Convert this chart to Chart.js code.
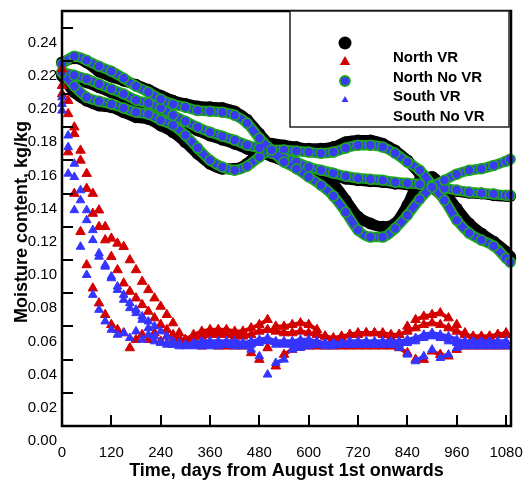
<!DOCTYPE html>
<html>
<head>
<meta charset="utf-8">
<script src="https://cdn.jsdelivr.net/npm/chart.js@4/dist/chart.umd.min.js"></script>
<style>
  html, body { margin: 0; padding: 0; background: #fff; }
  #wrap { width: 524px; height: 484px; }
</style>
</head>
<body>
<div id="wrap"><canvas id="chart"></canvas></div>
<script>
"use strict";

const FONT = "'Liberation Sans', Arial, sans-serif";
const LEGEND_LABELS = ["North VR", "North No VR", "South VR", "South No VR"];
const X_TITLE = "Time, days from August 1st onwards";
const Y_TITLE = "Moisture content, kg/kg";
const X_TICKS = [0, 120, 240, 360, 480, 600, 720, 840, 960, 1080];
const Y_TICKS = [0, 0.02, 0.04, 0.06, 0.08, 0.10, 0.12, 0.14, 0.16, 0.18, 0.20, 0.22, 0.24];

// 円マーカー（VR）の日付
const CIRCLE_DAYS = [0, 30, 60, 90, 120, 150, 180, 210, 240, 270, 300, 330, 360, 390, 420, 450, 480, 510,
  540, 570, 600, 630, 660, 690, 720, 750, 780, 810, 840, 870, 900, 930, 960, 990, 1020, 1050, 1080, 1090];

// North VR（黒丸）3本
const NORTH_VR_A = [0.219, 0.2215, 0.219, 0.2135, 0.2105, 0.208, 0.2055, 0.2025, 0.199, 0.196, 0.194, 0.1925,
  0.192, 0.1915, 0.1895, 0.1845, 0.176, 0.168, 0.162, 0.158, 0.155, 0.152, 0.146, 0.136, 0.126, 0.122, 0.120,
  0.122, 0.133, 0.148, 0.150, 0.141, 0.131, 0.122, 0.116, 0.111, 0.105, 0.102];
const NORTH_VR_B = [0.212, 0.2095, 0.207, 0.204, 0.201, 0.198, 0.1945, 0.1925, 0.1895, 0.1855, 0.1815, 0.178,
  0.175, 0.1725, 0.170, 0.167, 0.165, 0.1625, 0.1595, 0.157, 0.1545, 0.1525, 0.151, 0.149, 0.148, 0.1475,
  0.147, 0.146, 0.1455, 0.145, 0.144, 0.1425, 0.1415, 0.1405, 0.140, 0.139, 0.1385, 0.1385];
const NORTH_VR_C = [0.211, 0.201, 0.196, 0.193, 0.192, 0.189, 0.186, 0.185, 0.181, 0.177, 0.171, 0.164, 0.158,
  0.155, 0.155, 0.158, 0.165, 0.170, 0.169, 0.168, 0.167, 0.167, 0.168, 0.171, 0.172, 0.172, 0.170, 0.166,
  0.160, 0.152, 0.144, 0.137, 0.127, 0.119, 0.114, 0.110, 0.104, 0.101];

// South VR（青丸・緑縁）3本
const SOUTH_VR_A = [0.218, 0.2227, 0.2203, 0.2167, 0.2137, 0.2095, 0.2047, 0.2011, 0.1969, 0.1938, 0.192, 0.190,
  0.1896, 0.189, 0.1872, 0.1824, 0.1734, 0.1662, 0.159, 0.155, 0.150, 0.145, 0.1385, 0.1288, 0.118, 0.1138,
  0.1138, 0.119, 0.127, 0.1366, 0.1439, 0.148, 0.1517, 0.154, 0.155, 0.157, 0.1595, 0.1607];
const SOUTH_VR_B = [0.2131, 0.2113, 0.209, 0.206, 0.203, 0.200, 0.1963, 0.1945, 0.1915, 0.1872, 0.1836, 0.180,
  0.177, 0.1746, 0.1722, 0.1692, 0.1674, 0.1643, 0.1613, 0.159, 0.156, 0.1541, 0.1523, 0.1505, 0.1493, 0.1487,
  0.1481, 0.1469, 0.1463, 0.1457, 0.1445, 0.1433, 0.1421, 0.1409, 0.1403, 0.1397, 0.139, 0.139];
const SOUTH_VR_C = [0.213, 0.2047, 0.198, 0.1957, 0.1938, 0.1915, 0.189, 0.1878, 0.1842, 0.1812, 0.1752, 0.1674,
  0.1601, 0.156, 0.1541, 0.1565, 0.162, 0.1662, 0.1662, 0.1656, 0.165, 0.1643, 0.165, 0.1674, 0.1692, 0.1692,
  0.168, 0.1643, 0.159, 0.1541, 0.1451, 0.136, 0.124, 0.1162, 0.112, 0.1084, 0.1011, 0.0987];

// 三角マーカー（No VR）の日付
const TRI_DAYS = [0, 15, 30, 45, 60, 75, 90, 105, 120, 135, 150, 165, 180, 195, 210, 225, 240, 255, 270, 285, 300,
  320, 340, 360, 380, 400, 420, 440, 460, 480, 500, 520, 540, 560, 580, 600, 620, 640, 660, 680, 700, 720, 740,
  760, 780, 800, 820, 840, 860, 880, 900, 920, 940, 960, 980, 1000, 1020, 1040, 1060, 1080];

// North No VR（赤三角）3本
const NORTH_NOVR_A = [0.205, 0.165, 0.140, 0.117, 0.097, 0.083, 0.074, 0.067, 0.061, 0.058, 0.056, 0.047, 0.052,
  0.055, 0.052, 0.056, 0.051, 0.054, 0.052, 0.053, 0.051,
  0.049, 0.048, 0.049, 0.048, 0.048, 0.048, 0.048, 0.044, 0.040, 0.047, 0.036, 0.043, 0.046, 0.048, 0.048,
  0.048, 0.048, 0.048, 0.048, 0.048, 0.048, 0.048, 0.048, 0.048, 0.048, 0.047, 0.044, 0.040, 0.040, 0.045,
  0.043, 0.042, 0.046, 0.048, 0.048, 0.048, 0.048, 0.048, 0.048];
const NORTH_NOVR_B = [0.200, 0.188, 0.176, 0.160, 0.143, 0.128, 0.120, 0.112, 0.102, 0.094, 0.086, 0.081, 0.077,
  0.073, 0.069, 0.065, 0.061, 0.058, 0.055, 0.053, 0.052,
  0.053, 0.054, 0.055, 0.055, 0.055, 0.054, 0.054, 0.055, 0.057, 0.058, 0.057, 0.056, 0.056, 0.057, 0.056,
  0.055, 0.054, 0.053, 0.054, 0.055, 0.055, 0.056, 0.056, 0.056, 0.055, 0.055, 0.057, 0.059, 0.061, 0.062,
  0.061, 0.059, 0.057, 0.055, 0.054, 0.054, 0.054, 0.055, 0.055];
const NORTH_NOVR_C = [0.215, 0.196, 0.180, 0.166, 0.152, 0.140, 0.130, 0.120, 0.113, 0.110, 0.108, 0.100, 0.094,
  0.087, 0.082, 0.077, 0.072, 0.067, 0.062, 0.056, 0.052,
  0.055, 0.057, 0.058, 0.058, 0.058, 0.057, 0.057, 0.059, 0.061, 0.064, 0.060, 0.060, 0.061, 0.062, 0.061,
  0.058, 0.054, 0.051, 0.052, 0.055, 0.056, 0.056, 0.056, 0.055, 0.053, 0.055, 0.060, 0.064, 0.066, 0.067,
  0.068, 0.065, 0.061, 0.056, 0.052, 0.053, 0.054, 0.055, 0.056];

// South No VR（青三角）3本
const SOUTH_NOVR_A = [0.190, 0.152, 0.130, 0.108, 0.091, 0.079, 0.070, 0.063, 0.058, 0.055, 0.056, 0.053, 0.057,
  0.052, 0.055, 0.051, 0.050, 0.050, 0.049, 0.049, 0.049,
  0.049, 0.049, 0.048, 0.048, 0.049, 0.049, 0.049, 0.046, 0.042, 0.031, 0.038, 0.040, 0.046, 0.047, 0.048,
  0.049, 0.049, 0.049, 0.049, 0.049, 0.049, 0.049, 0.049, 0.049, 0.049, 0.047, 0.043, 0.039, 0.042, 0.046,
  0.041, 0.043, 0.047, 0.048, 0.048, 0.048, 0.048, 0.048, 0.048];
const SOUTH_NOVR_B = [0.198, 0.175, 0.158, 0.142, 0.130, 0.118, 0.104, 0.097, 0.090, 0.084, 0.079, 0.074, 0.070,
  0.066, 0.063, 0.060, 0.057, 0.054, 0.051, 0.050, 0.049,
  0.050, 0.051, 0.051, 0.051, 0.051, 0.051, 0.050, 0.051, 0.052, 0.053, 0.051, 0.051, 0.051, 0.052, 0.052,
  0.051, 0.050, 0.050, 0.050, 0.051, 0.051, 0.051, 0.051, 0.051, 0.051, 0.051, 0.052, 0.053, 0.055, 0.056,
  0.055, 0.054, 0.052, 0.051, 0.051, 0.051, 0.051, 0.051, 0.051];
const SOUTH_NOVR_C = [0.194, 0.168, 0.150, 0.136, 0.124, 0.112, 0.102, 0.096, 0.089, 0.082, 0.076, 0.071, 0.068,
  0.064, 0.059, 0.054, 0.050, 0.049, 0.049, 0.048, 0.048,
  0.048, 0.048, 0.049, 0.049, 0.049, 0.048, 0.048, 0.049, 0.050, 0.051, 0.049, 0.049, 0.049, 0.050, 0.050,
  0.049, 0.048, 0.048, 0.049, 0.049, 0.049, 0.049, 0.049, 0.049, 0.049, 0.049, 0.050, 0.051, 0.053, 0.054,
  0.053, 0.051, 0.050, 0.049, 0.049, 0.049, 0.049, 0.049, 0.049];

const BLACK = "#000000";
const RED = "#d40000";
const BLUE_TRI = "#3535ff";
const BLUE_DOT = "#3a3af2";
const GREEN = "#1fa81f";
const NONE = "rgba(0,0,0,0)";

function pts(days, values) {
  return days.map((d, i) => ({ x: d, y: values[i] }));
}

function blackTrack(values) {
  return {
    data: pts(CIRCLE_DAYS, values), showLine: true, cubicInterpolationMode: "monotone",
    borderColor: BLACK, borderWidth: 11, pointRadius: 6, pointBackgroundColor: BLACK,
    pointBorderWidth: 0, clip: false, order: 10,
  };
}
function greenEdge(values) {
  return {
    data: pts(CIRCLE_DAYS, values), showLine: true, cubicInterpolationMode: "monotone",
    borderColor: GREEN, borderWidth: 10.5, pointRadius: 0, clip: false, order: 9,
  };
}
function blueDots(values) {
  return {
    data: pts(CIRCLE_DAYS, values), showLine: true, cubicInterpolationMode: "monotone",
    borderColor: BLUE_DOT, borderWidth: 7, pointRadius: 5, pointBackgroundColor: BLUE_DOT,
    pointBorderColor: GREEN, pointBorderWidth: 1.5, clip: false, order: 8,
  };
}
// 平坦部だけ帯状につなぐ（下降部と飛び値はつながない）
function triangles(values, color, radius, order) {
  return {
    data: pts(TRI_DAYS, values), showLine: true, borderWidth: 4, borderColor: color,
    segment: {
      borderColor: (c) => (c.p0.parsed.x < 290 || Math.abs(c.p1.parsed.y - c.p0.parsed.y) > 0.0035) ? NONE : color,
    },
    pointStyle: "triangle", pointRadius: radius, pointBackgroundColor: color, pointBorderColor: color,
    pointBorderWidth: 1, clip: false, order,
  };
}

const datasets = [
  ...[NORTH_VR_A, NORTH_VR_B, NORTH_VR_C].map(blackTrack),
  ...[SOUTH_VR_A, SOUTH_VR_B, SOUTH_VR_C].map(greenEdge),
  ...[SOUTH_VR_A, SOUTH_VR_B, SOUTH_VR_C].map(blueDots),
  ...[NORTH_NOVR_A, NORTH_NOVR_B, NORTH_NOVR_C].map((v) => triangles(v, RED, 5.5, 7)),
  ...[SOUTH_NOVR_A, SOUTH_NOVR_B, SOUTH_NOVR_C].map((v) => triangles(v, BLUE_TRI, 5, 6)),
];

function useTicks(list) {
  return (scale) => { scale.ticks = list.map((v) => ({ value: v })); };
}
function fixBox(prop, size) {
  return (s) => {
    s[prop] = size;
    s.paddingLeft = 0; s.paddingRight = 0; s.paddingTop = 0; s.paddingBottom = 0;
  };
}

// 枠・内向き目盛り・軸タイトル・凡例
const decorations = {
  id: "decorations",
  afterDraw(chart) {
    const { ctx, chartArea: a, scales } = chart;
    ctx.save();
    ctx.strokeStyle = "#000";
    ctx.lineWidth = 2;
    scales.y.ticks.forEach((t) => {
      const y = Math.round(scales.y.getPixelForValue(t.value));
      ctx.beginPath(); ctx.moveTo(a.left, y); ctx.lineTo(a.left + 11, y); ctx.stroke();
    });
    scales.x.ticks.forEach((t) => {
      const x = Math.round(scales.x.getPixelForValue(t.value));
      ctx.beginPath(); ctx.moveTo(x, a.bottom); ctx.lineTo(x, a.bottom - 11); ctx.stroke();
    });
    ctx.lineWidth = 2.5;
    ctx.strokeRect(a.left, a.top, a.right - a.left, a.bottom - a.top);

    // 凡例
    const lx = 290, ly = a.top, lw = 219, lh = 116;
    ctx.fillStyle = "#fff";
    ctx.fillRect(lx, ly, lw, lh);
    ctx.lineWidth = 1.5;
    ctx.strokeStyle = "#222";
    ctx.strokeRect(lx, ly, lw, lh);

    const sx = 345;
    ctx.fillStyle = BLACK;
    ctx.beginPath(); ctx.arc(sx, 43, 6.5, 0, Math.PI * 2); ctx.fill();
    tri(ctx, sx, 62, 6, RED);
    ctx.beginPath(); ctx.arc(sx, 81, 5, 0, Math.PI * 2);
    ctx.fillStyle = BLUE_DOT; ctx.fill();
    ctx.lineWidth = 1.8; ctx.strokeStyle = GREEN; ctx.stroke();
    tri(ctx, sx, 100, 4, BLUE_TRI);

    ctx.fillStyle = "#000";
    ctx.font = "bold 15px " + FONT;
    ctx.textAlign = "left";
    ctx.textBaseline = "middle";
    [58, 78, 97, 117].forEach((y, i) => ctx.fillText(LEGEND_LABELS[i], 393, y));

    // 軸タイトル
    ctx.font = "bold 18px " + FONT;
    ctx.textAlign = "center";
    ctx.fillText(X_TITLE, (a.left + a.right) / 2, 471);
    ctx.translate(22, 222);
    ctx.rotate(-Math.PI / 2);
    ctx.fillText(Y_TITLE, 0, 0);
    ctx.restore();
  },
};

function tri(ctx, x, y, r, color) {
  ctx.beginPath();
  for (let k = 0; k < 3; k++) {
    const ang = -Math.PI / 2 + k * (2 * Math.PI / 3);
    const px = x + Math.cos(ang) * r, py = y + Math.sin(ang) * r;
    if (k === 0) ctx.moveTo(px, py); else ctx.lineTo(px, py);
  }
  ctx.closePath();
  ctx.fillStyle = color;
  ctx.fill();
}

new Chart(document.getElementById("chart"), {
  type: "scatter",
  data: { datasets },
  options: {
    responsive: true,
    maintainAspectRatio: false,
    animation: false,
    events: [],
    layout: { padding: { top: 11, right: 13, left: 0, bottom: 0 } },
    plugins: { legend: { display: false }, tooltip: { enabled: false } },
    scales: {
      x: {
        type: "linear", min: 0, max: 1092,
        grid: { display: false, drawTicks: false },
        border: { display: false },
        ticks: { autoSkip: false, maxRotation: 0, padding: 18, color: "#000",
          font: { family: FONT, size: 15 }, callback: (v) => String(v) },
        afterBuildTicks: useTicks(X_TICKS),
        afterFit: fixBox("height", 58),
      },
      y: {
        type: "linear", min: 0, max: 0.25,
        grid: { display: false, drawTicks: false },
        border: { display: false },
        ticks: { autoSkip: false, padding: 5, labelOffset: 15, color: "#000",
          font: { family: FONT, size: 15 }, callback: (v) => v.toFixed(2) },
        afterBuildTicks: useTicks(Y_TICKS),
        afterFit: fixBox("width", 62),
      },
    },
  },
  plugins: [decorations],
});
</script>
</body>
</html>
